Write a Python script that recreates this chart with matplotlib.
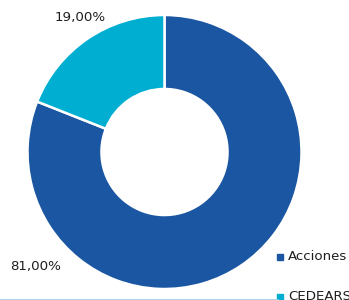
import matplotlib
matplotlib.use("Agg")
import matplotlib.pyplot as plt
from matplotlib.patches import Rectangle
from matplotlib.lines import Line2D

categories = ["Acciones", "CEDEARS"]
values = [81.0, 19.0]
labels = ["81,00%", "19,00%"]
colors = ["#1b56a2", "#00aed2"]

W, H = 349, 300
fig = plt.figure(figsize=(W / 100, H / 100), dpi=100)
ax = fig.add_axes([0, 0, 1, 1])
cx, cy, R = 164.5, H - 152, 137
ax.pie(values, colors=colors, startangle=90, counterclock=False,
       center=(cx, cy), radius=R,
       wedgeprops=dict(width=R * 0.54, edgecolor="white", linewidth=1.8))
ax.set_xlim(0, W)
ax.set_ylim(0, H)
ax.set_aspect("auto")
ax.axis("off")

font = "DejaVu Sans"
fs = 9.6
# percentage labels
fig.text(80 / W, 1 - 17.5 / H, labels[1], ha="center", va="center",
         fontsize=fs, color="#1e1e1e", family=font)
fig.text(36 / W, 1 - 266.5 / H, labels[0], ha="center", va="center",
         fontsize=fs, color="#1e1e1e", family=font)

# legend
leg_y = [256.5, 296.5]
for cat, col, y in zip(categories, colors, leg_y):
    fig.patches.append(Rectangle((277 / W, 1 - (y + 3) / H), 6 / W, 6 / H,
                                 transform=fig.transFigure, color=col))
    fig.text(288 / W, 1 - y / H, cat, ha="left", va="center",
             fontsize=fs, color="#1e1e1e", family=font)

# bottom rule
fig.add_artist(Line2D([0, 278 / W], [0.5 / H, 0.5 / H], transform=fig.transFigure,
                      color="#9ecbe3", linewidth=1.2))

fig.savefig("out.png", dpi=100)
